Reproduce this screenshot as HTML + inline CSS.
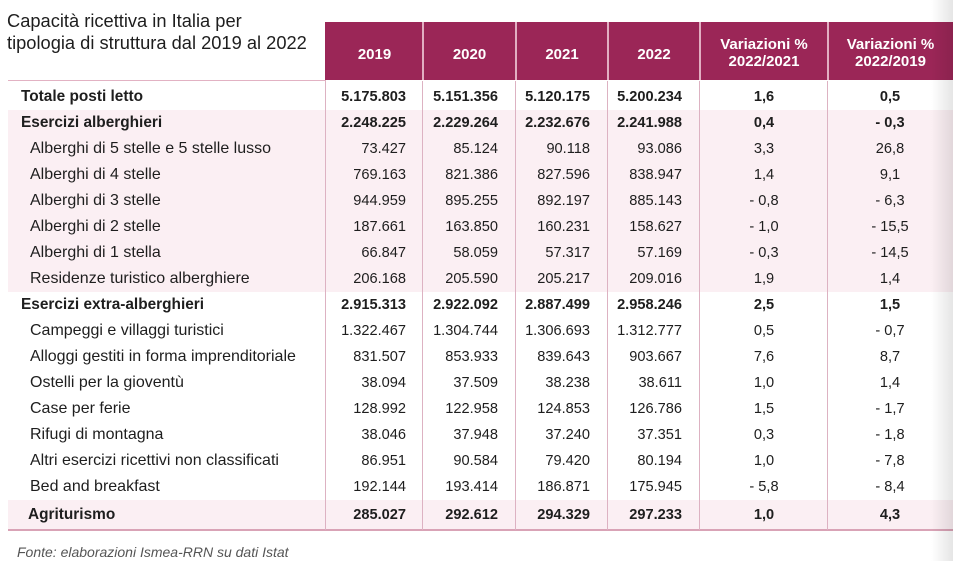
<!DOCTYPE html>
<html>
<head>
<meta charset="utf-8">
<style>
  html,body{margin:0;padding:0;}
  body{width:953px;height:561px;position:relative;overflow:hidden;background:#fff;
       font-family:"Liberation Sans",Arial,sans-serif;color:#1e1e1e;}
  .abs{position:absolute;}
  .title{left:7px;top:10px;font-size:18.3px;line-height:22px;color:#1e1e1e;white-space:nowrap;}
  .hdr{top:22px;height:58px;left:325px;width:628px;background:#9b2657;}
  .hsep{top:22px;height:58px;width:2px;background:#e2aec2;}
  .ht{color:#fff;font-weight:bold;font-size:15px;text-align:center;white-space:nowrap;}
  .band{left:8px;width:945px;background:#fbeff3;}
  .vl{width:1px;background:#ddb2c2;top:81px;height:449px;}
  .row{height:26px;line-height:26px;white-space:nowrap;}
  .lab{font-size:16px;}
  .labb{font-size:15.4px;font-weight:bold;}
  .n{font-size:14.6px;text-align:right;}
  .nb{font-size:14.6px;font-weight:bold;text-align:right;}
  .c{font-size:14.6px;text-align:center;}
  .cb{font-size:14.6px;font-weight:bold;text-align:center;}
  .shadow{top:0;left:931px;width:22px;height:561px;
          background:linear-gradient(to right,rgba(0,0,0,0),rgba(0,0,0,0.10));}
  .foot{left:17px;top:544px;font-size:14px;font-style:italic;color:#555;white-space:nowrap;}
</style>
</head>
<body>

<div class="abs title">Capacità ricettiva in Italia per<br>tipologia di struttura dal 2019 al 2022</div>

<!-- header -->
<div class="abs hdr"></div>
<div class="abs hsep" style="left:422px"></div>
<div class="abs hsep" style="left:515px"></div>
<div class="abs hsep" style="left:607px"></div>
<div class="abs hsep" style="left:699px"></div>
<div class="abs hsep" style="left:827px"></div>

<div class="abs ht" style="left:326px;width:97px;top:45px;line-height:20px;">2019</div>
<div class="abs ht" style="left:423px;width:93px;top:45px;line-height:20px;">2020</div>
<div class="abs ht" style="left:516px;width:92px;top:45px;line-height:20px;">2021</div>
<div class="abs ht" style="left:608px;width:92px;top:45px;line-height:20px;">2022</div>
<div class="abs ht" style="left:700px;width:128px;top:36px;line-height:17px;">Variazioni %<br>2022/2021</div>
<div class="abs ht" style="left:828px;width:125px;top:36px;line-height:17px;">Variazioni %<br>2022/2019</div>

<!-- bands -->
<div class="abs band" style="top:110px;height:182px;"></div>
<div class="abs band" style="top:500px;height:29px;"></div>

<!-- lines -->
<div class="abs" style="left:8px;top:80px;width:318px;height:1px;background:#e2b2c3;"></div>
<div class="abs" style="left:8px;top:529px;width:945px;height:2px;background:#d9a3b6;"></div>
<div class="abs vl" style="left:325px"></div>
<div class="abs vl" style="left:422px"></div>
<div class="abs vl" style="left:515px"></div>
<div class="abs vl" style="left:607px"></div>
<div class="abs vl" style="left:699px"></div>
<div class="abs vl" style="left:827px"></div>

<!-- Totale -->
<div class="abs row labb" style="left:21px;top:84px;">Totale posti letto</div>
<div class="abs row nb" style="left:326px;width:80px;top:84px;">5.175.803</div>
<div class="abs row nb" style="left:423px;width:75px;top:84px;">5.151.356</div>
<div class="abs row nb" style="left:516px;width:74px;top:84px;">5.120.175</div>
<div class="abs row nb" style="left:608px;width:74px;top:84px;">5.200.234</div>
<div class="abs row cb" style="left:700px;width:128px;top:84px;">1,6</div>
<div class="abs row cb" style="left:828px;width:124px;top:84px;">0,5</div>

<!-- Esercizi alberghieri -->
<div class="abs row labb" style="left:21px;top:110px;">Esercizi alberghieri</div>
<div class="abs row nb" style="left:326px;width:80px;top:110px;">2.248.225</div>
<div class="abs row nb" style="left:423px;width:75px;top:110px;">2.229.264</div>
<div class="abs row nb" style="left:516px;width:74px;top:110px;">2.232.676</div>
<div class="abs row nb" style="left:608px;width:74px;top:110px;">2.241.988</div>
<div class="abs row cb" style="left:700px;width:128px;top:110px;">0,4</div>
<div class="abs row cb" style="left:828px;width:124px;top:110px;">- 0,3</div>

<div class="abs row lab" style="left:30px;top:136px;">Alberghi di 5 stelle e 5 stelle lusso</div>
<div class="abs row n" style="left:326px;width:80px;top:136px;">73.427</div>
<div class="abs row n" style="left:423px;width:75px;top:136px;">85.124</div>
<div class="abs row n" style="left:516px;width:74px;top:136px;">90.118</div>
<div class="abs row n" style="left:608px;width:74px;top:136px;">93.086</div>
<div class="abs row c" style="left:700px;width:128px;top:136px;">3,3</div>
<div class="abs row c" style="left:828px;width:124px;top:136px;">26,8</div>

<div class="abs row lab" style="left:30px;top:162px;">Alberghi di 4 stelle</div>
<div class="abs row n" style="left:326px;width:80px;top:162px;">769.163</div>
<div class="abs row n" style="left:423px;width:75px;top:162px;">821.386</div>
<div class="abs row n" style="left:516px;width:74px;top:162px;">827.596</div>
<div class="abs row n" style="left:608px;width:74px;top:162px;">838.947</div>
<div class="abs row c" style="left:700px;width:128px;top:162px;">1,4</div>
<div class="abs row c" style="left:828px;width:124px;top:162px;">9,1</div>

<div class="abs row lab" style="left:30px;top:188px;">Alberghi di 3 stelle</div>
<div class="abs row n" style="left:326px;width:80px;top:188px;">944.959</div>
<div class="abs row n" style="left:423px;width:75px;top:188px;">895.255</div>
<div class="abs row n" style="left:516px;width:74px;top:188px;">892.197</div>
<div class="abs row n" style="left:608px;width:74px;top:188px;">885.143</div>
<div class="abs row c" style="left:700px;width:128px;top:188px;">- 0,8</div>
<div class="abs row c" style="left:828px;width:124px;top:188px;">- 6,3</div>

<div class="abs row lab" style="left:30px;top:214px;">Alberghi di 2 stelle</div>
<div class="abs row n" style="left:326px;width:80px;top:214px;">187.661</div>
<div class="abs row n" style="left:423px;width:75px;top:214px;">163.850</div>
<div class="abs row n" style="left:516px;width:74px;top:214px;">160.231</div>
<div class="abs row n" style="left:608px;width:74px;top:214px;">158.627</div>
<div class="abs row c" style="left:700px;width:128px;top:214px;">- 1,0</div>
<div class="abs row c" style="left:828px;width:124px;top:214px;">- 15,5</div>

<div class="abs row lab" style="left:30px;top:240px;">Alberghi di 1 stella</div>
<div class="abs row n" style="left:326px;width:80px;top:240px;">66.847</div>
<div class="abs row n" style="left:423px;width:75px;top:240px;">58.059</div>
<div class="abs row n" style="left:516px;width:74px;top:240px;">57.317</div>
<div class="abs row n" style="left:608px;width:74px;top:240px;">57.169</div>
<div class="abs row c" style="left:700px;width:128px;top:240px;">- 0,3</div>
<div class="abs row c" style="left:828px;width:124px;top:240px;">- 14,5</div>

<div class="abs row lab" style="left:30px;top:266px;">Residenze turistico alberghiere</div>
<div class="abs row n" style="left:326px;width:80px;top:266px;">206.168</div>
<div class="abs row n" style="left:423px;width:75px;top:266px;">205.590</div>
<div class="abs row n" style="left:516px;width:74px;top:266px;">205.217</div>
<div class="abs row n" style="left:608px;width:74px;top:266px;">209.016</div>
<div class="abs row c" style="left:700px;width:128px;top:266px;">1,9</div>
<div class="abs row c" style="left:828px;width:124px;top:266px;">1,4</div>

<!-- Esercizi extra-alberghieri -->
<div class="abs row labb" style="left:21px;top:292px;">Esercizi extra-alberghieri</div>
<div class="abs row nb" style="left:326px;width:80px;top:292px;">2.915.313</div>
<div class="abs row nb" style="left:423px;width:75px;top:292px;">2.922.092</div>
<div class="abs row nb" style="left:516px;width:74px;top:292px;">2.887.499</div>
<div class="abs row nb" style="left:608px;width:74px;top:292px;">2.958.246</div>
<div class="abs row cb" style="left:700px;width:128px;top:292px;">2,5</div>
<div class="abs row cb" style="left:828px;width:124px;top:292px;">1,5</div>

<div class="abs row lab" style="left:30px;top:318px;">Campeggi e villaggi turistici</div>
<div class="abs row n" style="left:326px;width:80px;top:318px;">1.322.467</div>
<div class="abs row n" style="left:423px;width:75px;top:318px;">1.304.744</div>
<div class="abs row n" style="left:516px;width:74px;top:318px;">1.306.693</div>
<div class="abs row n" style="left:608px;width:74px;top:318px;">1.312.777</div>
<div class="abs row c" style="left:700px;width:128px;top:318px;">0,5</div>
<div class="abs row c" style="left:828px;width:124px;top:318px;">- 0,7</div>

<div class="abs row lab" style="left:30px;top:344px;">Alloggi gestiti in forma imprenditoriale</div>
<div class="abs row n" style="left:326px;width:80px;top:344px;">831.507</div>
<div class="abs row n" style="left:423px;width:75px;top:344px;">853.933</div>
<div class="abs row n" style="left:516px;width:74px;top:344px;">839.643</div>
<div class="abs row n" style="left:608px;width:74px;top:344px;">903.667</div>
<div class="abs row c" style="left:700px;width:128px;top:344px;">7,6</div>
<div class="abs row c" style="left:828px;width:124px;top:344px;">8,7</div>

<div class="abs row lab" style="left:30px;top:370px;">Ostelli per la gioventù</div>
<div class="abs row n" style="left:326px;width:80px;top:370px;">38.094</div>
<div class="abs row n" style="left:423px;width:75px;top:370px;">37.509</div>
<div class="abs row n" style="left:516px;width:74px;top:370px;">38.238</div>
<div class="abs row n" style="left:608px;width:74px;top:370px;">38.611</div>
<div class="abs row c" style="left:700px;width:128px;top:370px;">1,0</div>
<div class="abs row c" style="left:828px;width:124px;top:370px;">1,4</div>

<div class="abs row lab" style="left:30px;top:396px;">Case per ferie</div>
<div class="abs row n" style="left:326px;width:80px;top:396px;">128.992</div>
<div class="abs row n" style="left:423px;width:75px;top:396px;">122.958</div>
<div class="abs row n" style="left:516px;width:74px;top:396px;">124.853</div>
<div class="abs row n" style="left:608px;width:74px;top:396px;">126.786</div>
<div class="abs row c" style="left:700px;width:128px;top:396px;">1,5</div>
<div class="abs row c" style="left:828px;width:124px;top:396px;">- 1,7</div>

<div class="abs row lab" style="left:30px;top:422px;">Rifugi di montagna</div>
<div class="abs row n" style="left:326px;width:80px;top:422px;">38.046</div>
<div class="abs row n" style="left:423px;width:75px;top:422px;">37.948</div>
<div class="abs row n" style="left:516px;width:74px;top:422px;">37.240</div>
<div class="abs row n" style="left:608px;width:74px;top:422px;">37.351</div>
<div class="abs row c" style="left:700px;width:128px;top:422px;">0,3</div>
<div class="abs row c" style="left:828px;width:124px;top:422px;">- 1,8</div>

<div class="abs row lab" style="left:30px;top:448px;">Altri esercizi ricettivi non classificati</div>
<div class="abs row n" style="left:326px;width:80px;top:448px;">86.951</div>
<div class="abs row n" style="left:423px;width:75px;top:448px;">90.584</div>
<div class="abs row n" style="left:516px;width:74px;top:448px;">79.420</div>
<div class="abs row n" style="left:608px;width:74px;top:448px;">80.194</div>
<div class="abs row c" style="left:700px;width:128px;top:448px;">1,0</div>
<div class="abs row c" style="left:828px;width:124px;top:448px;">- 7,8</div>

<div class="abs row lab" style="left:30px;top:474px;">Bed and breakfast</div>
<div class="abs row n" style="left:326px;width:80px;top:474px;">192.144</div>
<div class="abs row n" style="left:423px;width:75px;top:474px;">193.414</div>
<div class="abs row n" style="left:516px;width:74px;top:474px;">186.871</div>
<div class="abs row n" style="left:608px;width:74px;top:474px;">175.945</div>
<div class="abs row c" style="left:700px;width:128px;top:474px;">- 5,8</div>
<div class="abs row c" style="left:828px;width:124px;top:474px;">- 8,4</div>

<!-- Agriturismo -->
<div class="abs row labb" style="left:28px;top:502px;">Agriturismo</div>
<div class="abs row nb" style="left:326px;width:80px;top:502px;">285.027</div>
<div class="abs row nb" style="left:423px;width:75px;top:502px;">292.612</div>
<div class="abs row nb" style="left:516px;width:74px;top:502px;">294.329</div>
<div class="abs row nb" style="left:608px;width:74px;top:502px;">297.233</div>
<div class="abs row cb" style="left:700px;width:128px;top:502px;">1,0</div>
<div class="abs row cb" style="left:828px;width:124px;top:502px;">4,3</div>

<div class="abs foot">Fonte: elaborazioni Ismea-RRN su dati Istat</div>

<div class="abs shadow"></div>
</body>
</html>
